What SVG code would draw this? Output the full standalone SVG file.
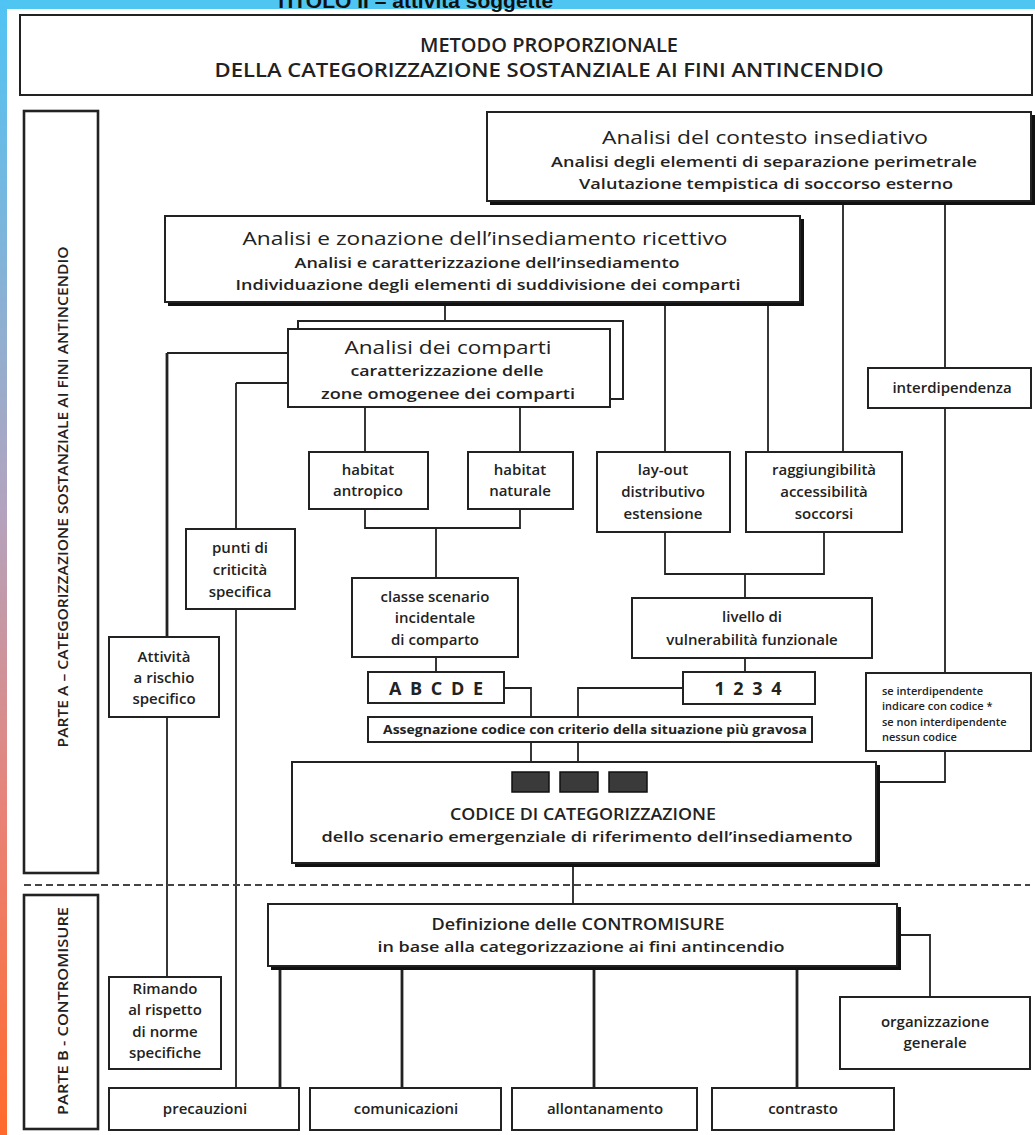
<svg xmlns="http://www.w3.org/2000/svg" width="1035" height="1135" viewBox="0 0 1035 1135">
<defs>
<linearGradient id="lg" x1="0" y1="0" x2="0" y2="1">
<stop offset="0" stop-color="#4FC4F4"/>
<stop offset="0.45" stop-color="#B3A3BE"/>
<stop offset="0.72" stop-color="#E98276"/>
<stop offset="1" stop-color="#FF6A2C"/>
</linearGradient>
<style>
.b{fill:#fff;stroke:#222;stroke-width:2}
.bt{fill:#fff;stroke:#222;stroke-width:2.6}
.sh{fill:#111}
.ln{stroke:#222;stroke-width:1.8;fill:none}
.lk{stroke:#222;stroke-width:2.8;fill:none}
.t{font-family:'Open Sans','Liberation Sans',sans-serif;fill:#222;text-anchor:middle}
.l{font-family:'Open Sans','Liberation Sans',sans-serif;fill:#222;text-anchor:start;font-size:11px;font-weight:600}
.h{font-size:19px}
.s{font-size:14.5px;font-weight:600}
.m{font-size:15px;font-weight:600}
.k{font-size:18px;font-weight:700;letter-spacing:2px}
.c{font-size:19px;font-weight:600}
.sq{fill:#3a3a3a;stroke:#111;stroke-width:1.5}
</style>
</defs>
<rect x="0" y="0" width="1035" height="1135" fill="#fff"/>
<rect x="0" y="0" width="1035" height="9" fill="#4FC5F2"/>
<rect x="0" y="0" width="7" height="1135" fill="url(#lg)"/>
<text x="414" y="8" font-family="'Liberation Sans',sans-serif" font-size="21" font-weight="700" fill="#111" text-anchor="middle">TITOLO II – attività soggette</text>

<g id="connectors">
<path class="ln" d="M445 302V321"/>
<path class="ln" d="M665 302V452"/>
<path class="ln" d="M768 302V452"/>
<path class="ln" d="M843 202V452"/>
<path class="ln" d="M945 202V368M945 408V673"/>
<path class="lk" d="M167 353V637"/>
<path class="ln" d="M167 353H288M167 717V977"/>
<path class="ln" d="M236 383H288M236 383V529M236 609V1088"/>
<path class="ln" d="M365 407V452M520 407V452"/>
<path class="ln" d="M365 509V528H520V509M436 528V578"/>
<path class="ln" d="M665 532V574H824V532M745 574V598"/>
<path class="ln" d="M745 658V672"/>
<path class="ln" d="M436 657V672"/>
<path class="ln" d="M504 688H531V717M683 688H578V717"/>
<path class="ln" d="M531 742V772M578 742V772"/>
<path class="ln" d="M647 782H945V751"/>
<path class="ln" d="M573 863V904"/>
<path class="lk" d="M280 966V1088M402 966V1088M594 966V1088M797 966V1088"/>
<path class="ln" d="M897 935H930V997"/>
<path d="M24 885H1030" stroke="#444" stroke-width="2" stroke-dasharray="7 4"/>
</g>

<g id="titolo">
<rect class="b" x="20" y="15" width="1012" height="80"/>
<text class="t c" x="549" y="52" textLength="258" lengthAdjust="spacingAndGlyphs">METODO PROPORZIONALE</text>
<text class="t c" x="549" y="77" textLength="669" lengthAdjust="spacingAndGlyphs">DELLA CATEGORIZZAZIONE SOSTANZIALE AI FINI ANTINCENDIO</text>
</g>

<g id="parte-a">
<rect class="bt" x="24" y="111" width="74" height="762"/>
<text class="t" transform="translate(68 497) rotate(-90)" font-size="14" font-weight="600" textLength="501" lengthAdjust="spacingAndGlyphs">PARTE A – CATEGORIZZAZIONE SOSTANZIALE AI FINI ANTINCENDIO</text>
</g>

<g id="parte-b">
<rect class="bt" x="24" y="895" width="74" height="234"/>
<text class="t" transform="translate(68 1011) rotate(-90)" font-size="14" font-weight="600" textLength="208" lengthAdjust="spacingAndGlyphs">PARTE B - CONTROMISURE</text>
</g>

<g id="contesto">
<rect class="sh" x="490" y="115" width="545" height="90"/>
<rect class="b" x="487" y="112" width="544" height="89"/>
<text class="t h" x="765" y="144" textLength="326" lengthAdjust="spacingAndGlyphs">Analisi del contesto insediativo</text>
<text class="t s" x="764" y="167" textLength="426" lengthAdjust="spacingAndGlyphs">Analisi degli elementi di separazione perimetrale</text>
<text class="t s" x="766" y="189" textLength="374" lengthAdjust="spacingAndGlyphs">Valutazione tempistica di soccorso esterno</text>
</g>

<g id="zonazione">
<rect class="sh" x="168" y="219" width="636" height="87"/>
<rect class="b" x="165" y="216" width="635" height="86"/>
<text class="t h" x="485" y="245" textLength="485" lengthAdjust="spacingAndGlyphs">Analisi e zonazione dell’insediamento ricettivo</text>
<text class="t s" x="487" y="268" textLength="385" lengthAdjust="spacingAndGlyphs">Analisi e caratterizzazione dell’insediamento</text>
<text class="t s" x="488" y="290" textLength="505" lengthAdjust="spacingAndGlyphs">Individuazione degli elementi di suddivisione dei comparti</text>
</g>

<g id="comparti">
<rect class="b" x="298" y="321" width="325" height="78"/>
<rect class="b" x="288" y="329" width="322" height="78"/>
<text class="t h" x="448" y="354" textLength="207" lengthAdjust="spacingAndGlyphs">Analisi dei comparti</text>
<text class="t s" x="447" y="376" textLength="193" lengthAdjust="spacingAndGlyphs">caratterizzazione delle</text>
<text class="t s" x="448" y="399" textLength="254" lengthAdjust="spacingAndGlyphs">zone omogenee dei comparti</text>
</g>

<g id="interdipendenza">
<rect class="b" x="868" y="368" width="163" height="40"/>
<text class="t m" x="952" y="393">interdipendenza</text>
</g>

<g id="habitat-antropico">
<rect class="b" x="309" y="452" width="119" height="57"/>
<text class="t m" x="368" y="475">habitat</text>
<text class="t m" x="368" y="496">antropico</text>
</g>

<g id="habitat-naturale">
<rect class="b" x="468" y="452" width="105" height="57"/>
<text class="t m" x="520" y="475">habitat</text>
<text class="t m" x="520" y="496">naturale</text>
</g>

<g id="layout">
<rect class="b" x="597" y="452" width="133" height="80"/>
<text class="t m" x="663" y="475">lay-out</text>
<text class="t m" x="663" y="497">distributivo</text>
<text class="t m" x="663" y="519">estensione</text>
</g>

<g id="raggiungibilita">
<rect class="b" x="746" y="452" width="156" height="80"/>
<text class="t m" x="824" y="475">raggiungibilità</text>
<text class="t m" x="824" y="497">accessibilità</text>
<text class="t m" x="824" y="519">soccorsi</text>
</g>

<g id="punti">
<rect class="b" x="186" y="529" width="109" height="80"/>
<text class="t m" x="240" y="553">punti di</text>
<text class="t m" x="240" y="575">criticità</text>
<text class="t m" x="240" y="597">specifica</text>
</g>

<g id="classe">
<rect class="b" x="352" y="578" width="166" height="79"/>
<text class="t m" x="435" y="602">classe scenario</text>
<text class="t m" x="435" y="623">incidentale</text>
<text class="t m" x="435" y="645">di comparto</text>
</g>

<g id="livello">
<rect class="b" x="632" y="598" width="240" height="60"/>
<text class="t m" x="752" y="622">livello di</text>
<text class="t m" x="752" y="645">vulnerabilità funzionale</text>
</g>

<g id="attivita">
<rect class="b" x="109" y="637" width="110" height="80"/>
<text class="t m" x="164" y="662">Attività</text>
<text class="t m" x="164" y="683">a rischio</text>
<text class="t m" x="164" y="704">specifico</text>
</g>

<g id="abcde">
<rect class="b" x="368" y="672" width="136" height="31"/>
<text class="t k" x="437" y="695">A B C D E</text>
</g>

<g id="n1234">
<rect class="b" x="683" y="672" width="132" height="32"/>
<text class="t k" x="749" y="695">1 2 3 4</text>
</g>

<g id="se-interdipendente">
<rect class="b" x="866" y="673" width="165" height="78"/>
<text class="l" x="882" y="695">se interdipendente</text>
<text class="l" x="882" y="710">indicare con codice *</text>
<text class="l" x="882" y="726">se non interdipendente</text>
<text class="l" x="882" y="741">nessun codice</text>
</g>

<g id="assegnazione">
<rect class="b" x="368" y="717" width="444" height="25"/>
<text class="t" x="595" y="734" font-size="12" font-weight="700" textLength="424" lengthAdjust="spacingAndGlyphs">Assegnazione codice con criterio della situazione più gravosa</text>
</g>

<g id="codice">
<rect class="sh" x="295" y="765" width="585" height="102"/>
<rect class="b" x="292" y="762" width="584" height="101"/>
<rect class="sq" x="512" y="772" width="37" height="20"/>
<rect class="sq" x="560" y="772" width="38" height="20"/>
<rect class="sq" x="609" y="772" width="38" height="20"/>
<text class="t" x="583" y="820" font-size="15.5" font-weight="600" textLength="266" lengthAdjust="spacingAndGlyphs">CODICE DI CATEGORIZZAZIONE</text>
<text class="t s" x="587" y="842" textLength="531" lengthAdjust="spacingAndGlyphs">dello scenario emergenziale di riferimento dell’insediamento</text>
</g>

<g id="definizione">
<rect class="sh" x="271" y="907" width="630" height="63"/>
<rect class="b" x="268" y="904" width="629" height="62"/>
<text class="t" x="578" y="930" font-size="15.5" font-weight="600" textLength="293" lengthAdjust="spacingAndGlyphs">Definizione delle CONTROMISURE</text>
<text class="t s" x="581" y="952" textLength="407" lengthAdjust="spacingAndGlyphs">in base alla categorizzazione ai fini antincendio</text>
</g>

<g id="rimando">
<rect class="b" x="109" y="977" width="112" height="92"/>
<text class="t m" x="165" y="994">Rimando</text>
<text class="t m" x="165" y="1015">al rispetto</text>
<text class="t m" x="165" y="1037">di norme</text>
<text class="t m" x="165" y="1058">specifiche</text>
</g>

<g id="organizzazione">
<rect class="b" x="840" y="997" width="190" height="72"/>
<text class="t m" x="935" y="1027">organizzazione</text>
<text class="t m" x="935" y="1048">generale</text>
</g>

<g id="precauzioni">
<rect class="b" x="109" y="1088" width="190" height="42"/>
<text class="t m" x="205" y="1114">precauzioni</text>
</g>
<g id="comunicazioni">
<rect class="b" x="310" y="1088" width="191" height="42"/>
<text class="t m" x="406" y="1114">comunicazioni</text>
</g>
<g id="allontanamento">
<rect class="b" x="512" y="1088" width="185" height="42"/>
<text class="t m" x="605" y="1114">allontanamento</text>
</g>
<g id="contrasto">
<rect class="b" x="712" y="1088" width="182" height="42"/>
<text class="t m" x="803" y="1114">contrasto</text>
</g>
</svg>
